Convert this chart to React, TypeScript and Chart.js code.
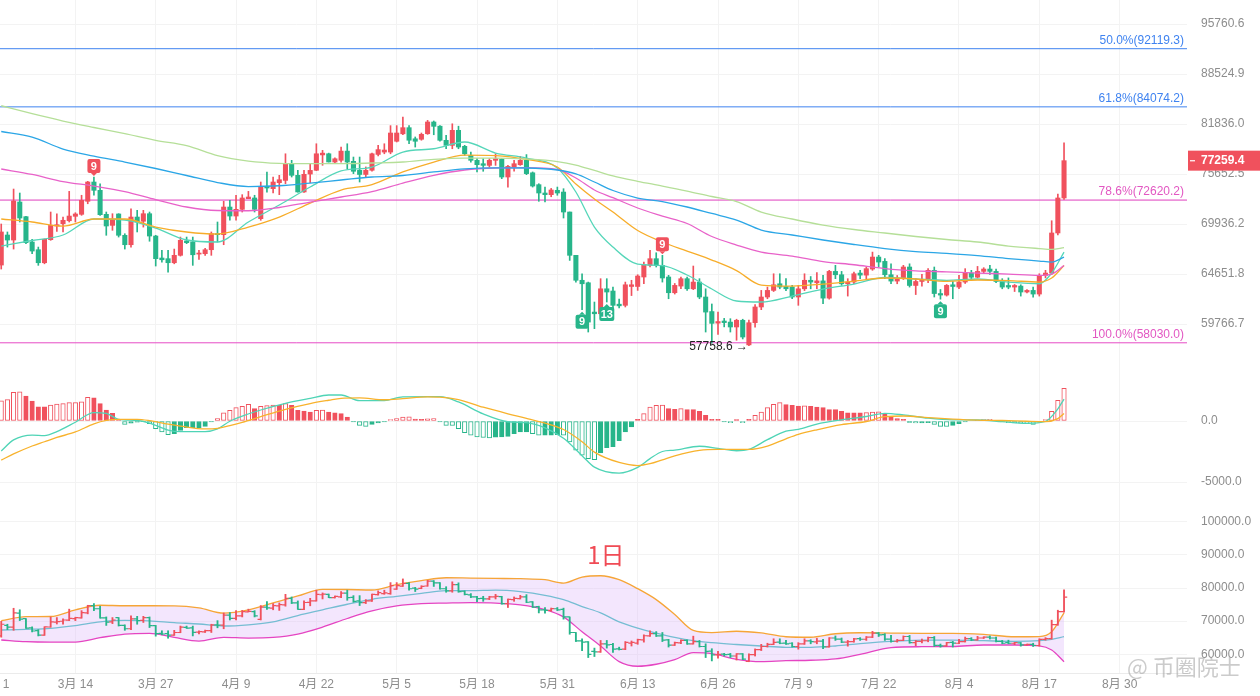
import React, { useEffect, useRef } from "react";
import { Chart, registerables } from "chart.js";

Chart.register(...registerables);

// ---------------- DATA ----------------
// Daily candles, day index 1 = 3月2 (day 0 = 3月1)
const opens = [
  65570, 68740, 68200, 72400, 70750, 67990, 67170, 65810, 68240, 69720,
  69970, 70300, 70790, 71010, 72480, 74710, 73740, 71010, 69790, 71050,
  68710, 67700, 70710, 70240, 71080, 68630, 66300, 66230, 65810, 66580,
  68100, 67990, 66710, 66750, 67170, 68880, 68780, 71830, 70820, 71570,
  72780, 72860, 70530, 74210, 73930, 74630, 74900, 76890, 75500, 73550,
  75650, 76100, 77960, 78100, 77090, 77300, 78430, 77180, 76100, 75600,
  76100, 78020, 78310, 78310, 79650, 80590, 81370, 79960, 79900, 80600,
  82100, 81560, 79770, 79140, 81030, 79020, 77900, 77300, 76890, 76690,
  77300, 77420, 75300, 76490, 76770, 77300, 75800, 74400, 73430, 73240,
  73740, 73540, 71270, 66580, 64020, 63770, 60900, 60740, 63170, 62950,
  61660, 61550, 63400, 63400, 64350, 65540, 66230, 65540, 64350, 62780,
  63440, 64180, 63170, 63840, 62360, 60950, 59850, 60050, 59950, 59490,
  60120, 57840, 59890, 61390, 62360, 63010, 63670, 63400, 63340, 62360,
  63170, 64020, 63770, 63960, 62250, 64920, 64580, 63670, 63840, 64750,
  64540, 65160, 66400, 65950, 64580, 63940, 64180, 65370, 63500, 63900,
  64080, 65030, 62700, 62550, 63570, 63340, 63840, 64750, 64330, 64920,
  65160, 64920, 63900, 63500, 63340, 63440, 62850, 63010, 62650, 64520,
  64750, 68960, 72860,
];
const highs = [
  69940, 69070, 73890, 73430, 70800, 68280, 67450, 68310, 71270, 71080,
  70710, 73620, 71190, 73170, 74790, 75300, 74510, 71270, 71080, 71080,
  68880, 71640, 71460, 71460, 71270, 68710, 67100, 67100, 67240, 68520,
  68520, 68520, 67100, 67310, 69070, 70160, 72480, 72590, 73170, 73240,
  73620, 73170, 74710, 75900, 75300, 75500, 78100, 77300, 76100, 76100,
  76890, 79340, 78520, 78180, 77600, 78930, 79340, 77700, 77700, 76500,
  78180, 79140, 79340, 81630, 81630, 82740, 81630, 80190, 80690, 82310,
  82230, 81630, 80390, 81870, 81560, 79140, 78310, 77500, 77500, 77500,
  78100, 77500, 76690, 77300, 77780, 78000, 75900, 74510, 74120, 73960,
  74120, 73930, 71270, 66580, 64680, 63840, 61870, 64180, 64180, 63340,
  62160, 63840, 64020, 64580, 65880, 67100, 66850, 66580, 64520, 63700,
  64350, 64350, 65470, 64180, 63170, 61680, 60900, 60300, 60270, 60220,
  60220, 60150, 61630, 63010, 63340, 64680, 64680, 64180, 63510, 63510,
  64680, 64400, 64800, 64510, 65030, 65540, 64920, 64180, 64850, 65030,
  65370, 66920, 66580, 66230, 65700, 64500, 65540, 65700, 64180, 64610,
  65200, 65370, 63100, 63600, 63900, 64520, 65200, 65030, 65430, 65300,
  65540, 65160, 64180, 64260, 63600, 63570, 63100, 63340, 64680, 65030,
  70300, 73300, 79460,
];
const lows = [
  65160, 67450, 67240, 70160, 67810, 66750, 65540, 65700, 68170, 69140,
  69070, 70160, 70160, 70900, 72200, 73170, 70900, 68710, 69250, 68520,
  67240, 67450, 69070, 69600, 68070, 65470, 65880, 64850, 65700, 66500,
  67810, 65540, 66160, 66580, 66580, 67990, 67700, 70350, 70350, 71270,
  72780, 71270, 70350, 73540, 73430, 73240, 74510, 75300, 73540, 73500,
  74630, 76050, 76700, 77090, 76980, 77090, 76290, 75700, 74710, 75300,
  75980, 77850, 78100, 78100, 79560, 80470, 79340, 78930, 79780, 80520,
  80470, 79650, 78720, 78720, 78720, 77900, 77090, 75900, 75980, 76490,
  76690, 75100, 74120, 75980, 76690, 75580, 74120, 72480, 72400, 73000,
  73170, 70600, 66050, 63840, 61130, 59020, 59330, 60580, 61870, 60580,
  61300, 61390, 62500, 63010, 63670, 65370, 65370, 63840, 62190, 62650,
  63170, 63010, 63080, 62190, 59020, 58000, 58800, 59500, 59020, 58260,
  58380, 57758.6, 59480, 61130, 62190, 62900, 63170, 62990, 62190, 61550,
  62990, 63170, 63170, 61700, 62150, 64180, 63510, 62450, 63670, 64180,
  64180, 65030, 65370, 64180, 63670, 63670, 64100, 63340, 62600, 63440,
  63770, 62360, 62150, 62450, 62190, 63170, 63700, 64100, 64260, 64750,
  64610, 63770, 63170, 63170, 62900, 62450, 62750, 62350, 62450, 64260,
  64600, 68750, 72700,
];
const closes = [
  69070, 68200, 72510, 70600, 67920, 67030, 65810, 68280, 69790, 69860,
  70350, 70820, 71050, 72590, 74710, 73740, 70970, 69720, 70350, 68710,
  67700, 70710, 70160, 71080, 68630, 66230, 66120, 65810, 66580, 68170,
  67920, 66640, 66820, 67170, 68880, 68780, 71830, 70820, 71570, 72860,
  72970, 71570, 74210, 74010, 74710, 74980, 76890, 75500, 73550, 75620,
  76090, 78100, 78180, 77100, 77490, 78430, 77090, 75980, 75600, 76100,
  78100, 78610, 78560, 80690, 80690, 81370, 79780, 79650, 80520, 82100,
  81540, 79770, 79140, 81030, 78930, 78100, 77300, 76770, 76690, 77300,
  77500, 75300, 76570, 76890, 77300, 75700, 74240, 73430, 73240, 73780,
  73430, 71270, 66580, 64020, 63670, 59950, 60740, 63170, 62850, 61550,
  61500, 63570, 63570, 64450, 65600, 66230, 65540, 64250, 62780, 63510,
  64180, 63170, 63840, 62360, 60900, 59830, 60000, 59900, 59490, 60120,
  58560, 59890, 61390, 62360, 63010, 63570, 63340, 63170, 62360, 63170,
  64020, 63840, 63960, 62250, 64920, 64580, 63670, 63840, 64680, 64540,
  65200, 66400, 65880, 64580, 63940, 64180, 65370, 63500, 63900, 64080,
  65030, 62700, 62550, 63510, 63400, 63840, 64750, 64330, 64920, 65160,
  64920, 63900, 63340, 63340, 63500, 62850, 63010, 62650, 64520, 64750,
  68960, 72860, 77259.4,
];

// Moving averages (read at sample days)
const maDays = [1, 6, 11, 16, 21, 26, 31, 36, 41, 46, 51, 56, 61, 66, 71, 76, 81, 86, 91, 94, 97, 100, 104, 108, 112, 116, 120, 124, 129, 134, 139, 144, 149, 154, 159, 164, 169, 171, 173];
const maFast = [67561, 68151, 68741, 70491, 70381, 69497, 68204, 67991, 70160, 72059, 74124, 76016, 76490, 78314, 78720, 79557, 78190, 77575, 76370, 73544, 69605, 67453, 65675, 65521, 64552, 63145, 61968, 61871, 62454, 63145, 63642, 64300, 64148, 64016, 64148, 63843, 63672, 64753, 66921];
const maOrange = [70491, 70160, 69716, 70491, 70491, 69605, 69067, 68850, 69605, 70711, 72283, 73776, 74416, 75898, 77094, 77943, 77882, 77418, 76490, 74475, 72741, 71267, 69228, 67991, 67027, 66089, 65006, 63542, 63442, 63642, 63944, 64250, 64148, 63914, 64046, 63995, 63843, 64250, 65521];
const maPink = [76254, 75599, 74767, 74240, 73601, 72683, 71834, 71437, 71414, 71777, 72396, 72970, 73601, 74591, 75503, 76135, 76372, 76407, 76194, 75180, 73776, 72890, 71721, 70822, 69994, 68577, 67669, 66921, 66505, 65933, 65603, 65213, 64983, 64873, 64752, 64652, 64520, 64652, 65532];
const maBlue = [80881, 80185, 78683, 77820, 77094, 76313, 75479, 74650, 74182, 74275, 74591, 74945, 75300, 75479, 75898, 76277, 76396, 76372, 76135, 75659, 74708, 73719, 72855, 72453, 71834, 71104, 70380, 69282, 68741, 68204, 67722, 67293, 66974, 66784, 66553, 66243, 65985, 65881, 66401];
const maGreen = [84222, 83180, 82226, 81393, 80604, 79772, 79116, 77880, 77214, 76937, 76889, 76889, 76973, 77094, 77422, 77575, 77575, 77453, 77154, 76732, 76075, 75420, 74790, 74240, 73660, 73028, 72453, 71267, 70491, 69827, 69336, 68958, 68578, 68258, 67991, 67561, 67293, 67210, 67400];

// Fibonacci levels
const fibValues = [92119.3, 84074.2, 72620.2, 58030.0];
const fibNames = ["50.0%", "61.8%", "78.6%", "100.0%"];

// TD sequential marks
const tdDays = [16, 108, 95, 99, 153];
const tdTexts = ["9", "9", "9", "13", "9"];
const tdAbove = [true, true, false, false, false];

const lowDay = 122;
const lowValue = 57758.6;

// MACD
const histValues = [
  1660, 1750, 2350, 2400, 2050, 1640, 1170, 1170, 1310, 1390,
  1420, 1500, 1510, 1580, 1940, 1900, 1420, 900, 630, 140,
  -270, -170, -90, -30, -220, -630, -900, -1120, -1040, -770,
  -550, -550, -550, -440, -80, 190, 680, 870, 1090, 1200,
  1360, 1010, 1200, 1260, 1300, 1280, 1420, 1280, 870, 820,
  740, 870, 900, 740, 660, 600, 330, -80, -360, -440,
  -270, -160, -80, 110, 190, 330, 340, 150, 140, 170,
  190, -80, -360, -370, -630, -960, -1170, -1310, -1350, -1390,
  -1330, -1310, -1260, -1040, -900, -900, -1040, -1170, -1170, -1170,
  -1120, -1170, -1720, -2400, -2810, -3090, -3170, -2620, -2190, -2100,
  -1610, -900, -490, 140, 600, 1150, 1280, 1300, 1010, 960,
  1010, 930, 930, 790, 470, 140, 140, -80, -140, 110,
  -140, 140, 470, 740, 1090, 1360, 1500, 1340, 1280, 1230,
  1250, 1200, 1150, 1090, 930, 930, 790, 680, 680, 680,
  690, 740, 750, 600, 330, 190, 140, -110, -160, -160,
  -140, -270, -440, -450, -360, -220, -80, 0, 60, 110,
  140, 60, -80, -140, -160, -170, -220, -270, -100, 110,
  790, 1700, 2680,
];
const macdDays = [1, 3, 6, 8, 10, 13, 16, 18, 20, 23, 25, 28, 30, 34, 36, 38, 40, 43, 47, 51, 54, 56, 59, 63, 66, 70, 72, 75, 79, 83, 86, 89, 92, 95, 97, 101, 104, 106, 108, 110, 114, 117, 120, 122, 125, 128, 130, 133, 137, 141, 144, 147, 151, 155, 159, 163, 167, 170, 172, 173];
const difValues = [-2450, -1550, -1150, -1200, -874, -100, 683, 628, 137, 40, -170, -745, -874, -870, -650, -20, 400, 902, 1448, 1858, 2131, 2131, 1666, 1670, 1980, 1995, 1995, 1560, 580, -60, -137, -560, -1420, -2840, -3780, -4270, -3800, -3080, -2500, -2390, -2070, -2240, -2440, -2330, -1530, -830, -690, -250, 100, 370, 628, 500, 230, 90, 82, -50, -190, -30, 1000, 1800];
const deaValues = [-3200, -2700, -2050, -1700, -1350, -900, -230, 50, 137, 137, 30, -260, -420, -650, -600, -370, -110, 355, 960, 1430, 1700, 1860, 1900, 1740, 1830, 1970, 1950, 1760, 1130, 590, 220, -180, -700, -1700, -2550, -3400, -3650, -3500, -3180, -2850, -2400, -2320, -2322, -2322, -2050, -1460, -1100, -720, -300, -40, 355, 410, 280, 160, 75, 40, -20, -50, 200, 620];

// Bollinger bands
const bbDays = [1, 5, 9, 13, 17, 21, 25, 29, 33, 37, 41, 45, 49, 53, 57, 61, 65, 69, 73, 77, 81, 85, 89, 92, 95, 98, 101, 104, 107, 110, 113, 116, 120, 124, 128, 132, 136, 140, 145, 150, 155, 160, 165, 169, 171, 173];
const bbUpper = [70130, 71350, 71400, 73400, 74800, 74650, 74650, 74620, 74000, 72400, 73400, 75500, 77600, 79600, 79550, 79400, 81000, 82200, 83100, 83000, 82900, 82800, 82500, 81500, 83300, 83700, 82500, 79800, 76500, 72000, 67200, 66550, 66950, 66450, 65300, 65150, 66200, 66500, 66400, 66330, 66330, 66000, 65300, 65350, 66800, 72500];
const bbMid = [67330, 67540, 67850, 68650, 69800, 70250, 70100, 69550, 69140, 68530, 68900, 69800, 71700, 73400, 75100, 76600, 77500, 78400, 79200, 79180, 79350, 78900, 77800, 76500, 74400, 72500, 69800, 67900, 66400, 65100, 64100, 63500, 62950, 62500, 62110, 62110, 62500, 63200, 63900, 64250, 64300, 64100, 63900, 64100, 64520, 65310];
const bbLower = [64310, 63800, 63650, 63700, 65000, 66100, 66330, 65100, 64000, 65130, 64900, 65100, 66100, 68200, 70800, 73100, 74600, 75300, 75450, 75560, 75450, 74900, 73500, 71300, 66800, 62500, 57800, 56400, 57000, 58400, 60500, 60200, 58500, 57800, 58070, 58200, 58600, 60000, 62000, 62290, 62350, 62800, 62800, 62550, 61300, 57770];

// Axis ticks
const dateTickDays = [0, 13, 26, 39, 52, 65, 78, 91, 104, 117, 130, 143, 156, 169, 182];
const priceTicks = [59766.7, 64651.8, 69936.2, 75652.5, 81836.0, 88524.9, 95760.6];
const macdTicks = [-5000, 0];
const bollTicks = [60000, 70000, 80000, 90000, 100000];

// ---------------- STYLE ----------------
const FONT = "Arial, 'Liberation Sans', 'Noto Sans CJK SC', sans-serif";
const CJK = "'Noto Sans CJK SC', 'Liberation Sans', sans-serif";
const UP = "#f0515d";
const DOWN = "#27b58a";
const GRID = "#f3f3f3";
const TICK = "#8d8d8d";
const DAY_MIN = 0.8;
const DAY_MAX = 192.9;

const candleDays = opens.map((_, k) => k + 1);
const candleColors = opens.map((o, k) => (closes[k] >= o ? UP : DOWN));
const pts = (days: number[], vals: number[]) => days.map((d, k) => ({ x: d, y: vals[k] }));

function dayLabel(d: number) {
  const dt = new Date(2024, 2, 1 + Math.round(d));
  return `${dt.getMonth() + 1}月 ${dt.getDate()}`;
}

function xAxis(show: boolean): any {
  return {
    type: "linear",
    min: DAY_MIN,
    max: DAY_MAX,
    offset: false,
    afterBuildTicks: (s: any) => {
      s.ticks = dateTickDays.map((v) => ({ value: v }));
    },
    afterFit: (s: any) => {
      s.height = show ? 23 : 0;
      s.paddingLeft = 0;
      s.paddingRight = 0;
    },
    grid: { color: GRID, drawTicks: false, offset: false },
    border: { display: show, color: "#ebebeb" },
    ticks: {
      display: show,
      autoSkip: false,
      maxRotation: 0,
      minRotation: 0,
      padding: 4,
      color: TICK,
      font: { size: 12, family: FONT },
      callback: (v: any) => dayLabel(Number(v)),
    },
  };
}

function yAxis(extra: any, tickVals: number[]): any {
  return {
    position: "right",
    ...extra,
    afterBuildTicks: (s: any) => {
      s.ticks = tickVals.map((v) => ({ value: v }));
    },
    afterFit: (s: any) => {
      s.width = 73;
      s.paddingTop = 0;
      s.paddingBottom = 0;
    },
    grid: { color: GRID, drawTicks: false },
    border: { display: false },
    ticks: {
      color: TICK,
      padding: 14,
      font: { size: 12, family: FONT },
      callback: (v: any) => Number(v).toFixed(1),
    },
  };
}

const baseOptions: any = {
  responsive: false,
  animation: false,
  events: [],
  layout: { padding: 0, autoPadding: false },
  plugins: { legend: { display: false }, tooltip: { enabled: false }, title: { display: false } },
};

function lineDs(days: number[], vals: number[], color: string, order = 1, width = 1.3): any {
  return {
    type: "line",
    data: pts(days, vals),
    borderColor: color,
    borderWidth: width,
    pointRadius: 0,
    cubicInterpolationMode: "monotone",
    fill: false,
    order,
  };
}

function roundRect(ctx: CanvasRenderingContext2D, x: number, y: number, w: number, h: number, r: number) {
  ctx.beginPath();
  ctx.moveTo(x + r, y);
  ctx.lineTo(x + w - r, y);
  ctx.quadraticCurveTo(x + w, y, x + w, y + r);
  ctx.lineTo(x + w, y + h - r);
  ctx.quadraticCurveTo(x + w, y + h, x + w - r, y + h);
  ctx.lineTo(x + r, y + h);
  ctx.quadraticCurveTo(x, y + h, x, y + h - r);
  ctx.lineTo(x, y + r);
  ctx.quadraticCurveTo(x, y, x + r, y);
  ctx.closePath();
}

const fibText = ["#3f83f0", "#3f83f0", "#e257c2", "#e257c2"];
const fibLine = ["#3f83f0", "#3f83f0", "#df3fbd", "#e64cc6"];

const mainPlugin: any = {
  id: "mainDecor",
  afterDatasetsDraw(chart: any) {
    const { ctx, chartArea } = chart;
    const x = chart.scales.x;
    const y = chart.scales.y;
    ctx.save();
    ctx.font = `12px ${FONT}`;
    ctx.textAlign = "right";
    ctx.textBaseline = "bottom";
    fibValues.forEach((v, k) => {
      ctx.fillStyle = fibText[k];
      ctx.fillText(`${fibNames[k]}(${v.toFixed(1)})`, chartArea.right - 3, y.getPixelForValue(v) - 2);
    });
    // TD marks
    tdDays.forEach((d, k) => {
      const idx = d - 1;
      const cx = x.getPixelForValue(d);
      const txt = tdTexts[k];
      const w = txt.length > 1 ? 15 : 13;
      const h = 14;
      const color = tdAbove[k] ? UP : DOWN;
      ctx.fillStyle = color;
      let top: number;
      if (tdAbove[k]) {
        const yh = y.getPixelForValue(highs[idx]);
        top = yh - 4 - h;
        roundRect(ctx, cx - w / 2, top, w, h, 2);
        ctx.fill();
        ctx.beginPath();
        ctx.moveTo(cx - 3, top + h);
        ctx.lineTo(cx + 3, top + h);
        ctx.lineTo(cx, top + h + 3);
        ctx.closePath();
        ctx.fill();
      } else {
        const yl = y.getPixelForValue(lows[idx]);
        top = yl + 5;
        roundRect(ctx, cx - w / 2, top, w, h, 2);
        ctx.fill();
        ctx.beginPath();
        ctx.moveTo(cx - 3, top);
        ctx.lineTo(cx + 3, top);
        ctx.lineTo(cx, top - 3);
        ctx.closePath();
        ctx.fill();
      }
      ctx.fillStyle = "#ffffff";
      ctx.font = `bold 11px ${FONT}`;
      ctx.textAlign = "center";
      ctx.textBaseline = "middle";
      ctx.fillText(txt, cx, top + h / 2 + 0.5);
    });
    // low marker
    ctx.font = `12px ${FONT}`;
    ctx.fillStyle = "#222";
    ctx.textAlign = "right";
    ctx.textBaseline = "middle";
    ctx.fillText(`${lowValue.toFixed(1)} →`, x.getPixelForValue(lowDay) - 1, y.getPixelForValue(lowValue) + 1);
    ctx.restore();
  },
  afterDraw(chart: any) {
    const { ctx, chartArea } = chart;
    const y = chart.scales.y;
    const last = closes[closes.length - 1];
    const yp = y.getPixelForValue(last);
    ctx.save();
    ctx.fillStyle = UP;
    ctx.fillRect(chartArea.right + 1, yp - 10, 73, 20);
    ctx.fillStyle = "#ffffff";
    ctx.fillRect(chartArea.right + 3, yp - 0.5, 5, 1.2);
    ctx.font = `bold 12px ${FONT}`;
    ctx.textAlign = "left";
    ctx.textBaseline = "middle";
    ctx.fillText(last.toFixed(1), chartArea.right + 14, yp + 0.5);
    ctx.restore();
  },
};

const bollPlugin: any = {
  id: "bollDecor",
  afterDatasetsDraw(chart: any) {
    const { ctx, chartArea } = chart;
    const x = chart.scales.x;
    const y = chart.scales.y;
    ctx.save();
    ctx.beginPath();
    ctx.rect(chartArea.left, chartArea.top, chartArea.right - chartArea.left, chartArea.bottom - chartArea.top);
    ctx.clip();
    ctx.lineWidth = 1.2;
    candleDays.forEach((d, k) => {
      const px = x.getPixelForValue(d);
      const yo = y.getPixelForValue(opens[k]);
      const yc = y.getPixelForValue(closes[k]);
      ctx.strokeStyle = candleColors[k];
      ctx.beginPath();
      ctx.moveTo(px - 3.2, yo);
      ctx.lineTo(px, yo);
      ctx.moveTo(px, yc);
      ctx.lineTo(px + 3.2, yc);
      ctx.stroke();
    });
    ctx.restore();
  },
  afterDraw(chart: any) {
    const { ctx, chartArea } = chart;
    ctx.save();
    ctx.fillStyle = "#f04b55";
    ctx.font = `24px ${CJK}`;
    ctx.textAlign = "center";
    ctx.textBaseline = "middle";
    ctx.fillText("1日", chartArea.left + (chartArea.right - chartArea.left) * 0.5105, chartArea.top + 50);
    ctx.fillStyle = "rgba(160,160,160,0.55)";
    ctx.font = `22px ${CJK}`;
    ctx.textAlign = "left";
    ctx.fillText("@ 币圈院士", chartArea.right - 60, chartArea.bottom - 6);
    ctx.restore();
  },
};

function buildMain(canvas: HTMLCanvasElement) {
  const datasets: any[] = [];
  fibValues.forEach((v, k) => {
    datasets.push({
      type: "line",
      data: [
        { x: DAY_MIN, y: v },
        { x: DAY_MAX, y: v },
      ],
      borderColor: fibLine[k],
      borderWidth: 1,
      pointRadius: 0,
      order: 6,
    });
  });
  datasets.push({
    type: "bar",
    data: candleDays.map((d, k) => ({ x: d, y: [lows[k], highs[k]] })),
    backgroundColor: candleColors,
    barThickness: 1,
    grouped: false,
    order: 4,
  });
  datasets.push({
    type: "bar",
    data: candleDays.map((d, k) => ({ x: d, y: [opens[k], closes[k]] })),
    backgroundColor: candleColors,
    barThickness: 4.4,
    minBarLength: 1,
    grouped: false,
    order: 3,
  });
  datasets.push(lineDs(maDays, maGreen, "#b5df98"));
  datasets.push(lineDs(maDays, maBlue, "#2ba6e6"));
  datasets.push(lineDs(maDays, maPink, "#e862c9"));
  datasets.push(lineDs(maDays, maOrange, "#f7ad2a"));
  datasets.push(lineDs(maDays, maFast, "#55d6b9"));
  return new Chart(canvas, {
    type: "bar",
    data: { datasets },
    options: {
      ...baseOptions,
      scales: {
        x: xAxis(false),
        y: yAxis({ type: "logarithmic", min: 56928, max: 99447 }, priceTicks),
      },
    },
    plugins: [mainPlugin],
  } as any);
}

function buildMacd(canvas: HTMLCanvasElement) {
  const hollow = histValues.map((v, k) => k === 0 || Math.abs(v) > Math.abs(histValues[k - 1]));
  const col = histValues.map((v) => (v >= 0 ? UP : DOWN));
  return new Chart(canvas, {
    type: "bar",
    data: {
      datasets: [
        {
          type: "bar",
          data: pts(candleDays, histValues),
          backgroundColor: col.map((c, k) => (hollow[k] ? "#ffffff" : c)),
          borderColor: col,
          borderWidth: 1,
          borderSkipped: false,
          barThickness: 4.5,
          grouped: false,
          order: 3,
        },
        lineDs(macdDays, deaValues, "#f8b22c", 1, 1.3),
        lineDs(macdDays, difValues, "#4fd4b6", 1, 1.3),
      ],
    },
    options: {
      ...baseOptions,
      scales: {
        x: xAxis(false),
        y: yAxis({ type: "linear", min: -6885, max: 5410 }, macdTicks),
      },
    },
  } as any);
}

function buildBoll(canvas: HTMLCanvasElement) {
  return new Chart(canvas, {
    type: "bar",
    data: {
      datasets: [
        lineDs(bbDays, bbUpper, "#f6a537", 2, 1.3),
        { ...lineDs(bbDays, bbLower, "#e545c2", 2, 1.3), fill: 0, backgroundColor: "rgba(222,186,250,0.36)" },
        lineDs(bbDays, bbMid, "#3bbfbd", 2, 1.3),
        {
          type: "bar",
          data: candleDays.map((d, k) => ({ x: d, y: [lows[k], highs[k]] })),
          backgroundColor: candleColors,
          barThickness: 1.2,
          grouped: false,
          order: 1,
        },
      ],
    },
    options: {
      ...baseOptions,
      scales: {
        x: xAxis(true),
        y: yAxis({ type: "linear", min: 54358, max: 105040 }, bollTicks),
      },
    },
    plugins: [bollPlugin],
  } as any);
}

export default function App() {
  const r1 = useRef<HTMLCanvasElement>(null);
  const r2 = useRef<HTMLCanvasElement>(null);
  const r3 = useRef<HTMLCanvasElement>(null);
  useEffect(() => {
    const charts: Chart[] = [];
    if (r1.current) charts.push(buildMain(r1.current));
    if (r2.current) charts.push(buildMacd(r2.current));
    if (r3.current) charts.push(buildBoll(r3.current));
    return () => charts.forEach((c) => c.destroy());
  }, []);
  return (
    <div
      style={{
        position: "fixed",
        left: 0,
        top: 0,
        width: 1260,
        height: 696,
        background: "#ffffff",
        overflow: "hidden",
      }}
    >
      <canvas ref={r1} width={1260} height={355} style={{ position: "absolute", left: 0, top: 0 }} />
      <canvas ref={r2} width={1260} height={150} style={{ position: "absolute", left: 0, top: 355 }} />
      <canvas ref={r3} width={1260} height={191} style={{ position: "absolute", left: 0, top: 505 }} />
    </div>
  );
}
